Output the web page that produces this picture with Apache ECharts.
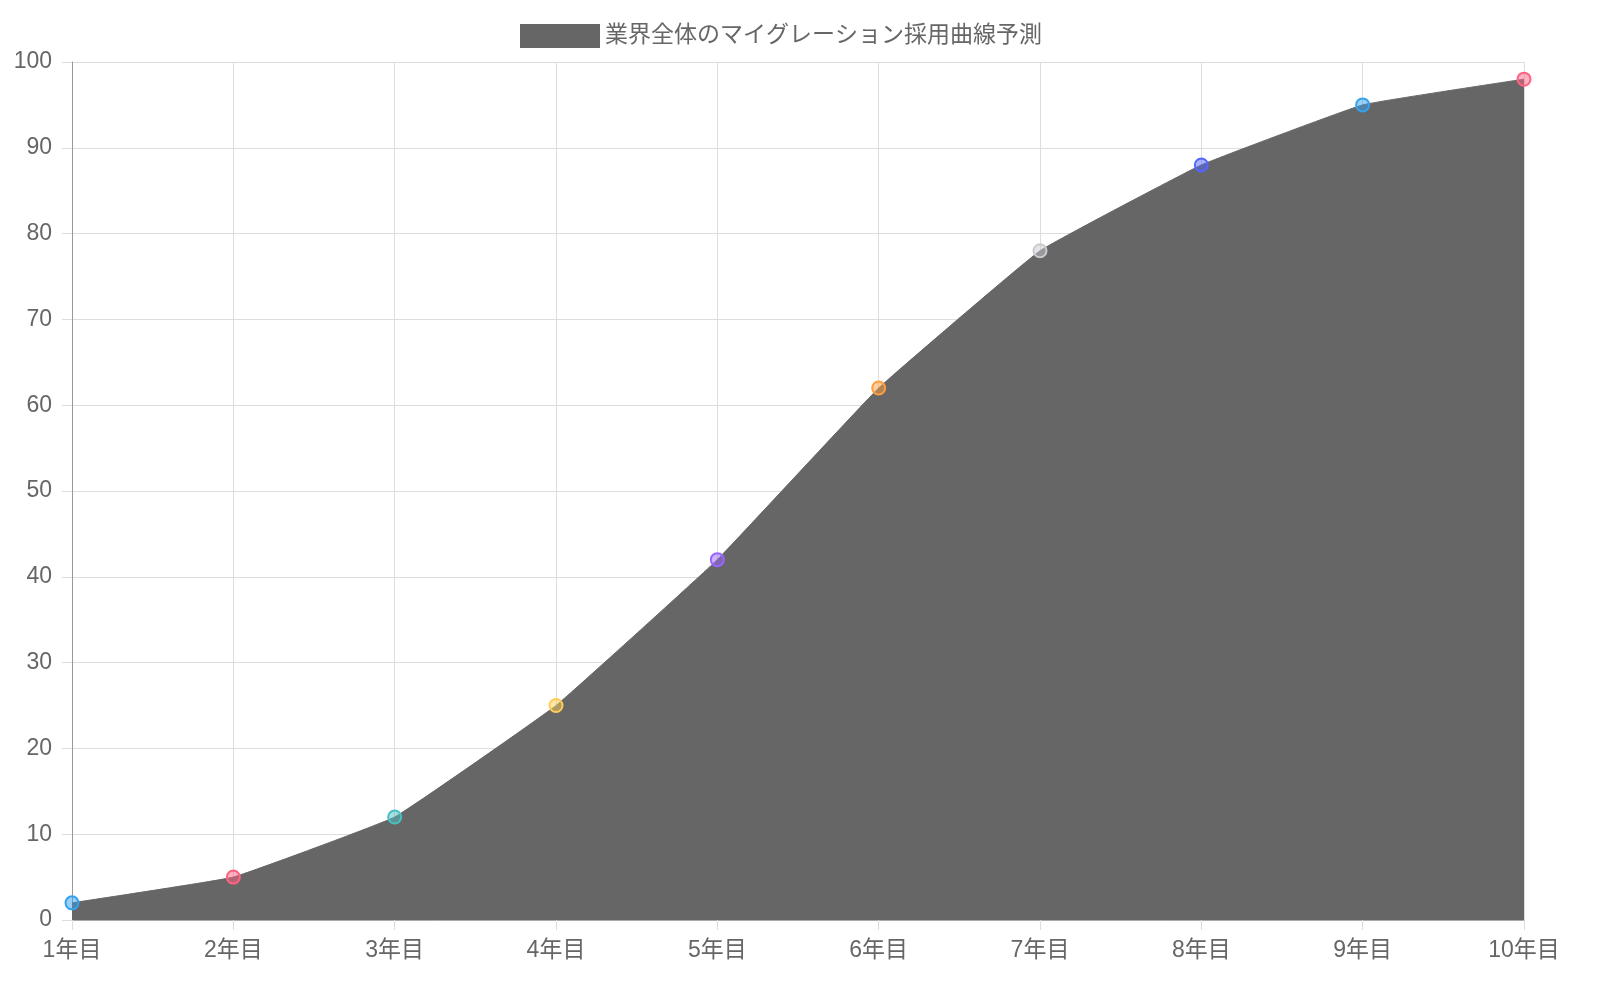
<!DOCTYPE html>
<html><head><meta charset="utf-8">
<script src="https://cdn.jsdelivr.net/npm/echarts@6/dist/echarts.min.js"></script>
<style>html,body{margin:0;padding:0;background:#fff}#c{width:1600px;height:1000px}</style>
</head><body><div id="c"></div>
<script>
const seriesName = '業界全体のマイグレーション採用曲線予測';
const categories = ['1年目','2年目','3年目','4年目','5年目','6年目','7年目','8年目','9年目','10年目'];
const adoption = [2, 5, 12, 25, 42, 62, 78, 88, 95, 98];
const yTicks = [0,10,20,30,40,50,60,70,80,90,100];
const pointColors = ['54,162,235','255,99,132','75,192,192','255,205,86','153,102,255','255,159,64','201,203,207','83,102,255','54,162,235','255,99,132'];

const FONT = "'Liberation Sans','Noto Sans CJK JP',sans-serif";
const chart = echarts.init(document.getElementById('c'));
chart.setOption({
  animation: false,
  legend: {
    top: 19, left: 515, itemWidth: 80, itemHeight: 24, itemGap: 10,
    icon: 'rect',
    textStyle: {fontSize: 23, color: '#666', fontFamily: FONT},
    data: [{name: seriesName, itemStyle: {color: '#666', borderWidth: 0}}]
  },
  grid: {left: 72, right: 76, top: 62, bottom: 80, containLabel: false},
  xAxis: {
    type: 'category', data: categories, boundaryGap: false,
    axisLine: {show: true, lineStyle: {color: '#aaa', width: 1}},
    axisTick: {show: true, length: 10, alignWithLabel: true, lineStyle: {color: '#ddd'}},
    axisLabel: {fontSize: 23, color: '#666', fontFamily: FONT, margin: 19},
    splitLine: {show: true, lineStyle: {color: '#ddd', width: 1}}
  },
  yAxis: {
    type: 'value', min: yTicks[0], max: yTicks[yTicks.length-1], interval: 10,
    axisLine: {show: true, lineStyle: {color: '#999', width: 1}},
    axisTick: {show: true, length: 10, lineStyle: {color: '#ddd'}},
    axisLabel: {fontSize: 23, color: '#666', fontFamily: FONT, margin: 20},
    splitLine: {show: true, lineStyle: {color: '#ddd', width: 1}}
  },
  series: [{
    name: seriesName, type: 'line', smooth: 0.08,
    data: adoption.map((v, i) => ({
      value: v,
      itemStyle: {color: 'rgba(' + pointColors[i] + ',0.5)', borderColor: 'rgb(' + pointColors[i] + ')', borderWidth: 2}
    })),
    symbol: 'circle', symbolSize: 13,
    lineStyle: {color: '#666', width: 1},
    areaStyle: {color: '#666', opacity: 1},
    itemStyle: {color: '#666'}
  }]
});
</script></body></html>
